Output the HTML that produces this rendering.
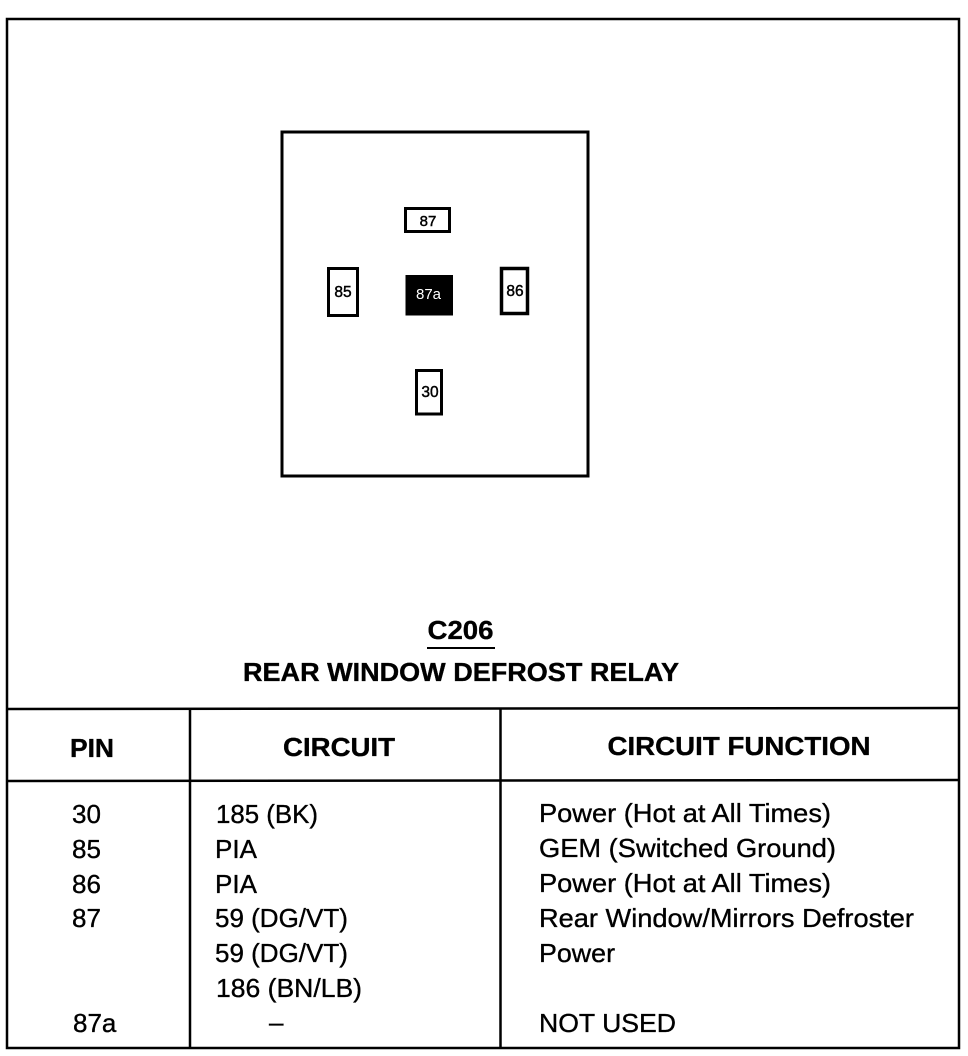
<!DOCTYPE html>
<html>
<head>
<meta charset="utf-8">
<style>
html,body{margin:0;padding:0;background:#fff;}
svg{display:block;}
text{font-family:"Liberation Sans",sans-serif;fill:#000;}
.t{stroke:#000;stroke-width:.35px;}
.l{stroke:#000;stroke-width:.45px;}
</style>
</head>
<body>
<svg width="968" height="1056" viewBox="0 0 968 1056" xmlns="http://www.w3.org/2000/svg">
<rect width="968" height="1056" fill="#fff"/>
<g fill="none" stroke="#000">
<rect x="7" y="19" width="952" height="1029" stroke-width="2.500"/>
<rect x="282" y="132" width="306" height="344" stroke-width="3"/>
<rect x="405.500" y="208.500" width="44" height="23" stroke-width="3"/>
<rect x="328.500" y="268.500" width="29" height="47" stroke-width="3"/>
<rect x="501.500" y="268.500" width="26" height="45" stroke-width="3.500"/>
<rect x="416.500" y="370.500" width="25" height="43.500" stroke-width="3"/>
<line x1="7" y1="709" x2="959" y2="708" stroke-width="2.500"/>
<line x1="7" y1="781" x2="959" y2="780" stroke-width="2.500"/>
<line x1="190" y1="709" x2="190" y2="1048" stroke-width="2.500"/>
<line x1="500.500" y1="709" x2="500.500" y2="1048" stroke-width="2.500"/>
<line x1="427" y1="648" x2="495" y2="648" stroke-width="2"/>
</g>
<rect x="405.500" y="275" width="47.500" height="40.500" fill="#000"/>
<g text-anchor="middle">
<text class="l" x="428" y="226" font-size="15">87</text>
<text class="l" x="343" y="297" font-size="15.500">85</text>
<text class="l" x="515" y="296" font-size="15.500">86</text>
<text class="l" x="430" y="397" font-size="15.500">30</text>
<text x="428.500" y="299" font-size="15" style="fill:#fff">87a</text>
</g>
<g font-weight="bold" text-anchor="middle" class="t">
<text x="460.500" y="639" font-size="26" textLength="66" lengthAdjust="spacingAndGlyphs">C206</text>
<text x="461" y="681" font-size="26" textLength="436" lengthAdjust="spacingAndGlyphs">REAR WINDOW DEFROST RELAY</text>
<text x="92" y="757" font-size="26" textLength="44" lengthAdjust="spacingAndGlyphs">PIN</text>
<text x="339" y="756" font-size="26" textLength="112" lengthAdjust="spacingAndGlyphs">CIRCUIT</text>
<text x="739" y="755" font-size="26" textLength="263" lengthAdjust="spacingAndGlyphs">CIRCUIT FUNCTION</text>
</g>
<g font-size="26" class="t">
<text x="72" y="823">30</text>
<text x="72" y="858">85</text>
<text x="72" y="893">86</text>
<text x="72" y="927">87</text>
<text x="73" y="1032">87a</text>
<text x="216" y="823" textLength="102" lengthAdjust="spacingAndGlyphs">185 (BK)</text>
<text x="215" y="858">PIA</text>
<text x="215" y="893">PIA</text>
<text x="215" y="927">59 (DG/VT)</text>
<text x="215" y="962">59 (DG/VT)</text>
<text x="216" y="997" textLength="146" lengthAdjust="spacingAndGlyphs">186 (BN/LB)</text>
<text x="269" y="1031">–</text>
<text x="539" y="822" textLength="292" lengthAdjust="spacingAndGlyphs">Power (Hot at All Times)</text>
<text x="539" y="857" textLength="297" lengthAdjust="spacingAndGlyphs">GEM (Switched Ground)</text>
<text x="539" y="892" textLength="292" lengthAdjust="spacingAndGlyphs">Power (Hot at All Times)</text>
<text x="539" y="927" textLength="375" lengthAdjust="spacingAndGlyphs">Rear Window/Mirrors Defroster</text>
<text x="539" y="962" textLength="76" lengthAdjust="spacingAndGlyphs">Power</text>
<text x="539" y="1032" textLength="137" lengthAdjust="spacingAndGlyphs">NOT USED</text>
</g>
</svg>
</body>
</html>
